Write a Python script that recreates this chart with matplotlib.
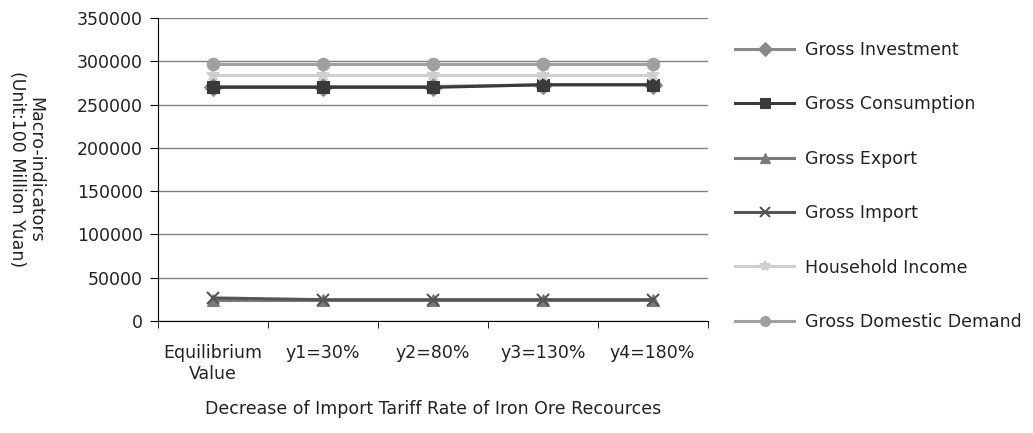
import matplotlib
matplotlib.use('Agg')
import matplotlib.pyplot as plt

plt.rcParams['font.family'] = ['DejaVu Sans']

categories = ['Equilibrium\nValue', 'y1=30%', 'y2=80%', 'y3=130%', 'y4=180%']

gross_investment = [271000, 271000, 271000, 273000, 273000]
gross_consumption = [270000, 270000, 270000, 273000, 273000]
gross_export = [24000, 24000, 24000, 24000, 24000]
gross_import = [26500, 24500, 24500, 24500, 24500]
household_income = [284000, 284000, 284000, 284000, 284000]
domestic_demand = [297000, 297000, 297000, 297000, 297000]

series = [
    ('Gross Investment', gross_investment, 'D', '#8a8a8a'),
    ('Gross Consumption', gross_consumption, 's', '#3a3a3a'),
    ('Gross Export', gross_export, '^', '#7a7a7a'),
    ('Gross Import', gross_import, 'x', '#555555'),
    ('Household Income', household_income, '*', '#cfcfcf'),
    ('Gross Domestic Demand', domestic_demand, 'o', '#a0a0a0'),
]

fs = 12.5

fig = plt.figure(figsize=(10.33, 4.33), dpi=100)
ax = fig.add_axes([0.153, 0.259, 0.532, 0.699])

x = list(range(len(categories)))
for name, vals, mk, col in series:
    ax.plot(x, vals, color=col, linewidth=2.2, marker=mk, markersize=9,
            markeredgewidth=1.5 if mk in ('x', '*') else 0.8, markeredgecolor=col,
            label=name)

ax.set_xlim(-0.5, len(categories) - 0.5)
ax.set_ylim(0, 350000)
ax.set_yticks(range(0, 350001, 50000))
ax.set_xticks(x)
ax.set_xticklabels(categories, fontsize=fs, color='#222222')
ax.set_xticks([i - 0.5 for i in range(len(categories) + 1)], minor=True)
ax.tick_params(axis='x', which='major', length=0, pad=17)
ax.tick_params(axis='x', which='minor', length=5, direction='out')
ax.tick_params(axis='y', length=6, direction='out', labelsize=fs, pad=5, labelcolor='#222222')

ax.grid(axis='y', color='#808080', linewidth=1)
ax.set_axisbelow(True)
for s in ['top', 'right']:
    ax.spines[s].set_visible(False)
ax.spines['left'].set_color('black')
ax.spines['bottom'].set_color('black')

ax.set_ylabel('Macro-indicators\n(Unit:100 Million Yuan)', rotation=-90, fontsize=fs,
              va='center', ha='center', color='#222222', linespacing=1.0)
ax.yaxis.set_label_coords(-0.24, 0.5)
ax.set_xlabel('Decrease of Import Tariff Rate of Iron Ore Recources', fontsize=fs,
              labelpad=12, color='#222222')

fig.legend(loc='upper left', bbox_to_anchor=(0.705, 0.922), frameon=False, fontsize=fs,
           handlelength=3.4, labelspacing=2.1, borderaxespad=0, handletextpad=0.6,
           markerscale=0.8, labelcolor='#222222')

fig.savefig('out.png', dpi=100)
